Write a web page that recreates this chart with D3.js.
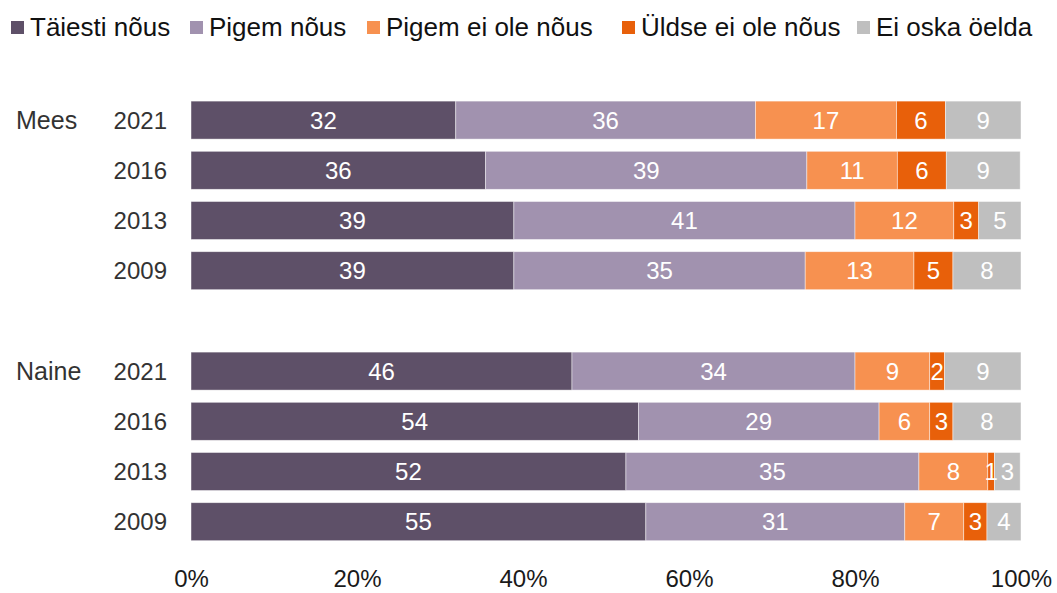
<!DOCTYPE html>
<html>
<head>
<meta charset="utf-8">
<script src="https://cdn.jsdelivr.net/npm/d3@7"></script>
<style>
  html, body { margin: 0; padding: 0; background: #fff; }
  svg { display: block; font-family: "Liberation Sans", Arial, sans-serif; }
</style>
</head>
<body>
<svg id="chart" width="1057" height="593"></svg>
<script>
// ---- data ----
const groups = ["Mees", "Naine"];
const years = ["2021", "2016", "2013", "2009"];
const seriesNames = ["Täiesti nõus", "Pigem nõus", "Pigem ei ole nõus", "Üldse ei ole nõus", "Ei oska öelda"];
// values per row: Mees 2021, 2016, 2013, 2009, Naine 2021, 2016, 2013, 2009
const taiestiNous   = [31.9, 35.5, 38.9, 38.9, 45.9, 53.9, 52.4, 54.8];
const pigemNous     = [36.1, 38.7, 41.1, 35.1, 34.1, 29.0, 35.3, 31.2];
const pigemEiOle    = [17.0, 10.9, 11.9, 13.1,  9.0,  6.1,  8.3,  7.1];
const uldseEiOle    = [ 5.9,  5.9,  3.0,  4.7,  1.8,  2.8,  0.8,  2.8];
const eiOskaOelda   = [ 9.1,  8.9,  5.1,  8.2,  9.2,  8.2,  3.1,  4.1];
const seriesValues = [taiestiNous, pigemNous, pigemEiOle, uldseEiOle, eiOskaOelda];
const colors = ["#5E5068", "#A192AF", "#F79150", "#E8600A", "#BFBFBF"];
const tickValues = [0, 20, 40, 60, 80, 100];

// ---- rows ----
const rows = [];
groups.forEach((g, gi) => {
  years.forEach((y, yi) => rows.push({ key: g + "-" + y, group: g, year: y, idx: gi * 4 + yi }));
  if (gi < groups.length - 1) rows.push({ key: "gap-" + gi, gap: true });
});

const svg = d3.select("#chart");

const x = d3.scaleLinear().domain([0, 100]).range([191, 1021]);
const y = d3.scaleBand()
  .domain(rows.map(r => r.key))
  .range([95, 95 + 9 * 50.2])
  .paddingInner(0.243)
  .paddingOuter(0.1215);

const dataRows = rows.filter(r => !r.gap);

// segments
const segs = [];
dataRows.forEach(r => {
  let acc = 0;
  seriesValues.forEach((arr, si) => {
    const v = arr[r.idx];
    segs.push({ key: r.key, si, x0: acc, x1: acc + v, v });
    acc += v;
  });
});

const g = svg.append("g");
g.selectAll("rect.seg").data(segs).enter().append("rect")
  .attr("class", "seg")
  .attr("x", d => x(d.x0))
  .attr("width", d => x(d.x1) - x(d.x0))
  .attr("y", d => y(d.key))
  .attr("height", y.bandwidth())
  .attr("fill", d => colors[d.si])
  .attr("stroke", "#ffffff")
  .attr("stroke-opacity", 0.6)
  .attr("stroke-width", 0.75);

g.selectAll("text.val").data(segs).enter().append("text")
  .attr("class", "val")
  .attr("x", d => (x(d.x0) + x(d.x1)) / 2)
  .attr("y", d => y(d.key) + y.bandwidth() / 2)
  .attr("dy", "0.36em")
  .attr("text-anchor", "middle")
  .attr("fill", "#ffffff")
  .attr("font-size", 24)
  .text(d => Math.round(d.v));

// year labels
svg.selectAll("text.year").data(dataRows).enter().append("text")
  .attr("class", "year")
  .attr("x", 167)
  .attr("y", d => y(d.key) + y.bandwidth() / 2)
  .attr("dy", "0.36em")
  .attr("text-anchor", "end")
  .attr("fill", "#333333")
  .attr("font-size", 24)
  .text(d => d.year);

// group labels
svg.selectAll("text.grp").data(groups).enter().append("text")
  .attr("class", "grp")
  .attr("x", 16)
  .attr("y", g => y(g + "-" + years[0]) + y.bandwidth() / 2)
  .attr("dy", "0.36em")
  .attr("fill", "#333333")
  .attr("font-size", 25)
  .text(d => d);

// x axis (labels only)
const axis = d3.axisBottom(x).tickValues(tickValues).tickFormat(d => d + "%").tickSize(0).tickPadding(0);
const ax = svg.append("g").attr("transform", "translate(0,570)").call(axis);
ax.select(".domain").remove();
ax.selectAll("text")
  .attr("font-size", 24)
  .attr("font-family", "'Liberation Sans', Arial, sans-serif")
  .attr("fill", "#1a1a1a")
  .attr("dy", "0.7em");

// legend
const legendX = [11, 190, 367, 622, 857];
const lg = svg.selectAll("g.leg").data(seriesNames).enter().append("g")
  .attr("class", "leg")
  .attr("transform", (d, i) => `translate(${legendX[i]},0)`);
lg.append("rect")
  .attr("x", 0).attr("y", 21).attr("width", 13).attr("height", 13)
  .attr("fill", (d, i) => colors[i]);
lg.append("text")
  .attr("x", 19).attr("y", 36)
  .attr("font-size", 26)
  .attr("fill", "#111111")
  .text(d => d);
</script>
</body>
</html>
